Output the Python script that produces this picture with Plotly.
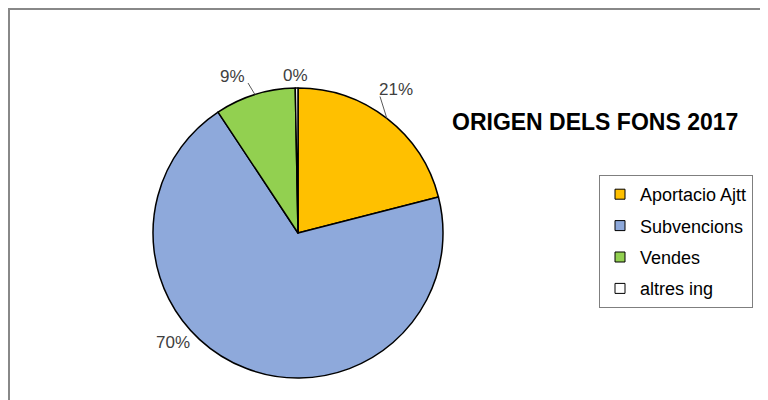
import math
import plotly.graph_objects as go

# ---- data ----
labels = ["Aportacio Ajtt", "Subvencions", "Vendes", "altres ing"]
values = [21.0, 69.7, 9.0, 0.3]
colors = ["#FFC000", "#8EA9DB", "#92D050", "#FFFFFF"]
title_text = "ORIGEN DELS FONS 2017"

# ---- layout geometry (window pixels; page body has an 8px margin) ----
OFF = 8
W, H = 768 - OFF, 400 - OFF
cx, cy, R = 298, 233, 145
# label centres (pixels) and whether a leader line is drawn
label_pos = [(396, 90), (173, 342.5), (233, 76.5), (295, 76)]
leader = [True, False, True, False]


def px(x):
    return (x - OFF) / W


def py(y):
    return 1 - (y - OFF) / H


fig = go.Figure()
fig.add_trace(go.Pie(
    labels=labels, values=values, sort=False, direction="clockwise", rotation=0,
    marker=dict(colors=colors, line=dict(color="#000000", width=1.5)),
    textinfo="none", showlegend=False, hoverinfo="label+percent",
    domain=dict(x=[px(cx - R), px(cx + R)], y=[py(cy + R), py(cy - R)]),
))

# legend entries (one group per category so spacing can be set)
for lab, col in zip(labels, colors):
    fig.add_trace(go.Scatter(
        x=[None], y=[None], mode="markers", name=lab, legendgroup=lab,
        marker=dict(symbol="square", size=10, color=col,
                    line=dict(color="#000000", width=1)),
    ))

total = sum(values)
annotations = []
shapes = []
start = 0.0
for i, v in enumerate(values):
    mid = start + v / total * 360 / 2
    start += v / total * 360
    lx, lyy = label_pos[i]
    annotations.append(dict(
        x=px(lx), y=py(lyy), xref="paper", yref="paper", showarrow=False,
        text=f"{round(v / total * 100)}%", xanchor="center", yanchor="middle",
        font=dict(family="Liberation Sans", size=17, color="#404040"),
    ))
    if leader[i]:
        a = math.radians(mid)
        ex, ey = cx + R * math.sin(a), cy - R * math.cos(a)
        sx = lx + (-16 if lx > cx else 15)
        sy = lyy + 6.5
        shapes.append(dict(type="line", xref="paper", yref="paper",
                           x0=px(ex), y0=py(ey), x1=px(sx), y1=py(sy),
                           line=dict(color="#595959", width=1)))

annotations.append(dict(
    x=px(594.5), y=py(121.5), xref="paper", yref="paper", showarrow=False,
    text=title_text, xanchor="center", yanchor="middle",
    font=dict(family="Liberation Sans", size=23, color="#000000", weight="bold"),
))

# outer chart border
shapes.append(dict(type="rect", xref="paper", yref="paper",
                   x0=px(9), y0=py(420), x1=px(790), y1=py(9),
                   line=dict(color="#888888", width=2)))

fig.update_layout(
    width=W, height=H, margin=dict(l=0, r=0, t=0, b=0),
    paper_bgcolor="#FFFFFF", plot_bgcolor="#FFFFFF",
    xaxis=dict(visible=False), yaxis=dict(visible=False),
    showlegend=True,
    legend=dict(x=px(599), y=py(175), xanchor="left", yanchor="top",
                bordercolor="#7F7F7F", borderwidth=1, bgcolor="#FFFFFF",
                font=dict(family="Liberation Sans", size=18, color="#000000"),
                tracegroupgap=5, traceorder="grouped", itemsizing="trace"),
    annotations=annotations, shapes=shapes,
)

fig.write_html("out.html")
